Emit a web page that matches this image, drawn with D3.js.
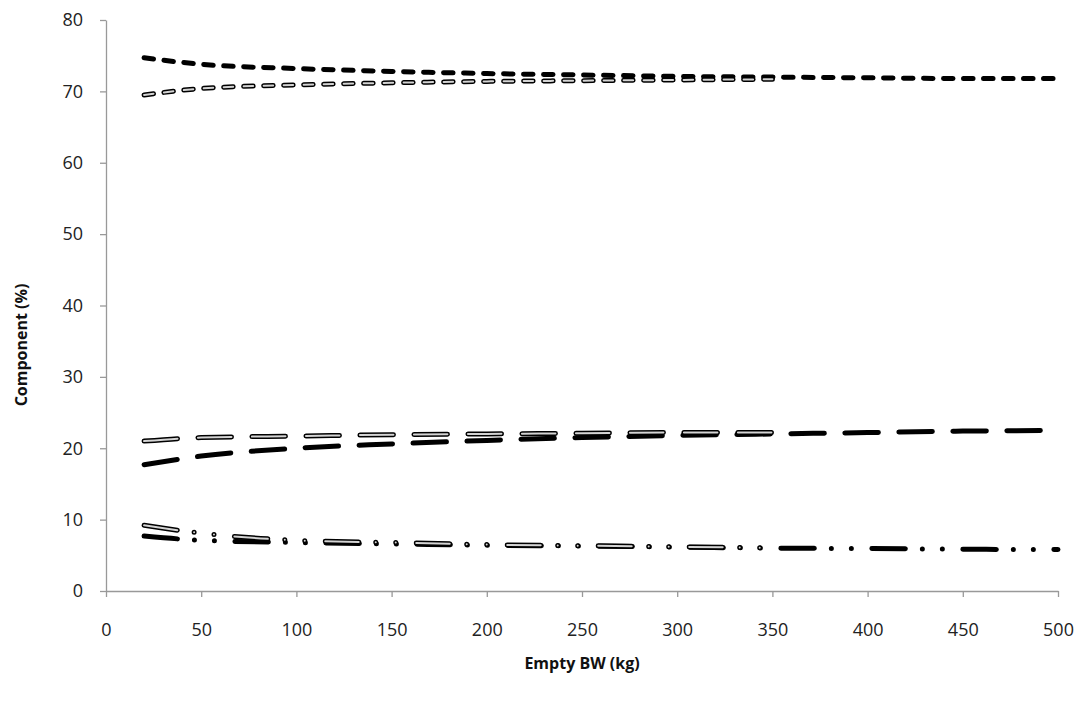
<!DOCTYPE html>
<html>
<head>
  <title>Component vs Empty BW</title>
  <script src="https://cdn.jsdelivr.net/npm/d3@7"></script>
  <style>
    body { margin: 0; background: #fff; }
  </style>
</head>
<body>
  <svg width="1091" height="702" id="mainsvg"></svg>

  <script>
    // data
    const bwFull = [20, 50, 100, 150, 200, 250, 300, 350, 400, 450, 500];
    const bwShort = [20, 50, 100, 150, 200, 250, 300, 350];

    const waterBlack = [74.7, 73.8, 73.2, 72.8, 72.5, 72.3, 72.1, 72.0, 71.9, 71.8, 71.8];
    const waterWhite = [69.5, 70.4, 70.9, 71.2, 71.4, 71.5, 71.6, 71.7];
    const protBlack = [17.7, 18.9, 20.0, 20.6, 21.1, 21.5, 21.8, 22.0, 22.2, 22.4, 22.5];
    const protWhite = [21.0, 21.5, 21.7, 21.9, 22.0, 22.1, 22.2, 22.2];
    const ashBlack = [7.7, 7.1, 6.8, 6.6, 6.4, 6.3, 6.15, 6.0, 5.95, 5.85, 5.8];
    const ashWhite = [9.2, 8.1, 7.1, 6.8, 6.5, 6.35, 6.2, 6.05];

    const xTicks = d3.range(0, 501, 50);
    const yTicks = d3.range(0, 81, 10);

    const svg = d3.select('#mainsvg');
    const margin = { top: 20, left: 106, right: 33, bottom: 111 };
    const width = +svg.attr('width'), height = +svg.attr('height');
    const innerW = width - margin.left - margin.right;
    const innerH = height - margin.top - margin.bottom;

    const g = svg.append('g').attr('transform', `translate(${margin.left},${margin.top})`);

    const x = d3.scaleLinear().domain([0, 500]).range([0, innerW]);
    const y = d3.scaleLinear().domain([0, 80]).range([innerH, 0]);

    // axes
    const xAxis = g.append('g').attr('transform', `translate(0,${innerH})`)
      .call(d3.axisBottom(x).tickValues(xTicks).tickSize(6).tickPadding(26).tickSizeOuter(0));
    const yAxis = g.append('g')
      .call(d3.axisLeft(y).tickValues(yTicks).tickSize(6).tickPadding(17).tickSizeOuter(0));
    [xAxis, yAxis].forEach(a => {
      a.select('.domain').attr('stroke', '#999').attr('stroke-width', 1.3);
      a.selectAll('.tick line').attr('stroke', '#999').attr('stroke-width', 1.3);
      a.selectAll('.tick text').attr('fill', '#222')
        .attr('font-family', 'Open Sans, sans-serif').attr('font-size', 18);
    });

    // axis titles
    svg.append('text').text('Empty BW (kg)')
      .attr('x', 582).attr('y', 669).attr('text-anchor', 'middle')
      .attr('font-family', 'Open Sans, sans-serif').attr('font-weight', 'bold')
      .attr('font-size', 16).attr('fill', '#111');
    svg.append('text').text('Component (%)')
      .attr('transform', 'translate(27,345) rotate(-90)')
      .attr('text-anchor', 'middle')
      .attr('font-family', 'Open Sans, sans-serif').attr('font-weight', 'bold')
      .attr('font-size', 16).attr('fill', '#111');

    const line = d3.line().x(d => x(d[0])).y(d => y(d[1])).curve(d3.curveMonotoneX);

    const series = [
      { xs: bwFull, ys: waterBlack, dash: '9.5,10.5', white: false },
      { xs: bwFull, ys: protBlack, dash: '33.5,20.5', white: false },
      { xs: bwFull, ys: ashBlack, dash: '33.5,17,0,20,0,20.5', white: false },
      { xs: bwShort, ys: waterWhite, dash: '9.5,10.5', white: true },
      { xs: bwShort, ys: protWhite, dash: '33.5,20.5', white: true },
      { xs: bwShort, ys: ashWhite, dash: '33.5,17,0,20,0,20.5', white: true }
    ];

    series.forEach(s => {
      const pts = s.xs.map((v, i) => [v, s.ys[i]]);
      g.append('path').attr('d', line(pts))
        .attr('fill', 'none').attr('stroke', '#000')
        .attr('stroke-width', 5)
        .attr('stroke-linecap', 'round')
        .attr('stroke-dasharray', s.dash);
      if (s.white) {
        g.append('path').attr('d', line(pts))
          .attr('fill', 'none').attr('stroke', '#d4d4d4')
          .attr('stroke-width', 2)
          .attr('stroke-linecap', 'round')
          .attr('stroke-dasharray', s.dash);
      }
    });
  </script>
</body>
</html>
